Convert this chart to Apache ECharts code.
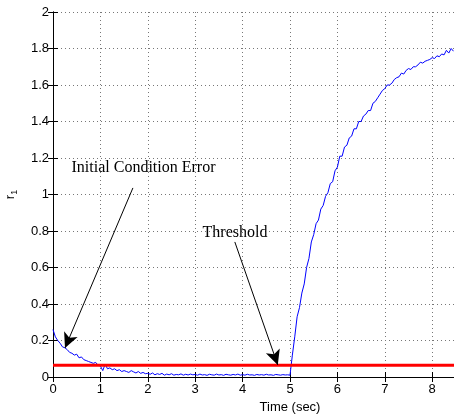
<!DOCTYPE html>
<html>
<head>
<meta charset="utf-8">
<script src="https://cdn.jsdelivr.net/npm/echarts@6/dist/echarts.min.js"></script>
<style>html,body{margin:0;padding:0;background:#fff;overflow:hidden;}#chart{width:454px;height:415px;}</style>
</head>
<body>
<div id="chart"></div>
<script>
// Time samples (sec)
var timeSec = [
 0.00,0.05,0.10,0.15,0.20,0.25,0.30,0.35,0.40,0.45,0.50,0.55,0.60,0.65,0.70,0.75,0.80,0.85,0.90,0.95,
 1.00,1.05,1.10,1.15,1.20,1.25,1.30,1.35,1.40,1.45,1.50,1.55,1.60,1.65,1.70,1.75,1.80,1.85,1.90,1.95,
 2.00,2.05,2.10,2.15,2.20,2.25,2.30,2.35,2.40,2.45,2.50,2.55,2.60,2.65,2.70,2.75,2.80,2.85,2.90,2.95,
 3.00,3.05,3.10,3.15,3.20,3.25,3.30,3.35,3.40,3.45,3.50,3.55,3.60,3.65,3.70,3.75,3.80,3.85,3.90,3.95,
 4.00,4.05,4.10,4.15,4.20,4.25,4.30,4.35,4.40,4.45,4.50,4.55,4.60,4.65,4.70,4.75,4.80,4.85,4.90,4.95,
 5.00,5.05,5.10,5.15,5.20,5.25,5.30,5.35,5.40,5.45,5.50,5.55,5.60,5.65,5.70,5.75,5.80,5.85,5.90,5.95,
 6.00,6.05,6.10,6.15,6.20,6.25,6.30,6.35,6.40,6.45,6.50,6.55,6.60,6.65,6.70,6.75,6.80,6.85,6.90,6.95,
 7.00,7.05,7.10,7.15,7.20,7.25,7.30,7.35,7.40,7.45,7.50,7.55,7.60,7.65,7.70,7.75,7.80,7.85,7.90,7.95,
 8.00,8.05,8.10,8.15,8.20,8.25,8.30,8.35,8.40,8.45
];
// Residual r1
var r1 = [
 0.26,0.22,0.20,0.185,0.165,0.16,0.15,0.135,0.13,0.12,0.125,0.105,0.11,0.095,0.09,0.085,0.08,0.075,0.08,0.065,
 0.06,0.035,0.07,0.045,0.05,0.04,0.045,0.035,0.04,0.03,0.035,0.03,0.025,0.035,0.028,0.022,0.03,0.02,0.025,0.018,
 0.02,0.015,0.022,0.012,0.018,0.014,0.02,0.01,0.016,0.012,0.018,0.01,0.014,0.012,0.017,0.01,0.015,0.011,0.016,0.012,
 0.014,0.01,0.016,0.011,0.013,0.009,0.015,0.012,0.01,0.016,0.011,0.013,0.009,0.015,0.012,0.01,0.014,0.011,0.016,0.01,
 0.013,0.01,0.015,0.011,0.012,0.009,0.014,0.011,0.013,0.01,0.015,0.011,0.012,0.009,0.014,0.012,0.01,0.013,0.011,0.012,
 0.01,0.12,0.22,0.33,0.38,0.46,0.51,0.60,0.65,0.74,0.78,0.84,0.86,0.92,0.94,0.99,1.01,1.06,1.07,1.13,
 1.15,1.21,1.21,1.26,1.27,1.31,1.32,1.36,1.36,1.40,1.40,1.43,1.44,1.46,1.46,1.50,1.51,1.53,1.55,1.57,
 1.58,1.60,1.60,1.61,1.63,1.64,1.645,1.665,1.66,1.68,1.69,1.685,1.70,1.70,1.71,1.725,1.72,1.73,1.735,1.74,
 1.75,1.745,1.76,1.755,1.77,1.765,1.79,1.775,1.80,1.785
];
var thresholdValue = 0.065;
var thresholdTimes = [0, 10];
// Annotations: [text, textTime, textValue, tailTime, tailValue, headTime, headValue]
var annotations = [
 ['Initial Condition Error', 1.91, 1.145, 1.686, 1.036, 0.253, 0.159],
 ['Threshold', 3.84, 0.789, 3.836, 0.740, 4.742, 0.066]
];

var r1Data = timeSec.map(function(t, i){ return [t, r1[i]]; });
var thrData = thresholdTimes.map(function(t){ return [t, thresholdValue]; });

var chart = echarts.init(document.getElementById('chart'));
var sans = 'Liberation Sans, Arial, sans-serif';
var axisCommon = {
  type: 'value',
  axisLine: { show: true, lineStyle: { color: '#000', width: 1 } },
  axisTick: { show: true, inside: true, length: 5, lineStyle: { color: '#000' } },
  splitLine: { show: false }
};
chart.setOption({
  animation: false,
  grid: { left: 53, top: 12, width: 474, height: 365, containLabel: false, outerBoundsMode: 'none' },
  xAxis: [
    Object.assign({}, axisCommon, {
      min: 0, max: 10, interval: 1, position: 'bottom',
      name: 'Time (sec)', nameLocation: 'middle', nameGap: 20,
      nameTextStyle: { fontFamily: sans, fontSize: 13, color: '#000' },
      axisLabel: { fontFamily: sans, fontSize: 13, color: '#000', margin: 6 },
      splitLine: { show: true, lineStyle: { color: '#777', type: [1, 3], width: 1 } }
    }),
    Object.assign({}, axisCommon, {
      min: 0, max: 10, interval: 1, position: 'top', axisLabel: { show: false }
    })
  ],
  yAxis: [
    Object.assign({}, axisCommon, {
      min: 0, max: 2, interval: 0.2, position: 'left',
      name: '{r|r}{s|1}', nameLocation: 'middle', nameGap: 34, nameRotate: 90,
      nameTextStyle: { rich: {
        r: { fontFamily: sans, fontSize: 13, color: '#000' },
        s: { fontFamily: sans, fontSize: 9, color: '#000', verticalAlign: 'bottom', padding: [8, 0, 0, 0] }
      } },
      axisLabel: { fontFamily: sans, fontSize: 13, color: '#000', margin: 4 },
      splitLine: { show: true, lineStyle: { color: '#777', type: [1, 3], width: 1 } }
    }),
    Object.assign({}, axisCommon, {
      min: 0, max: 2, interval: 0.2, position: 'right', axisLabel: { show: false }
    })
  ],
  series: [
    {
      type: 'line', data: r1Data, showSymbol: false, symbol: 'none',
      lineStyle: { color: '#0000ff', width: 1 }, z: 3
    },
    {
      type: 'line', data: thrData, showSymbol: false, symbol: 'none',
      lineStyle: { color: '#ff0000', width: 3 }, z: 4
    },
    {
      type: 'line', data: [], z: 5,
      markLine: {
        silent: true, symbol: ['none', 'arrow'], symbolSize: [11, 15],
        label: { show: false },
        lineStyle: { color: '#000', width: 1, type: 'solid' },
        data: annotations.map(function(a){
          return [{ coord: [a[3], a[4]] }, { coord: [a[5], a[6]] }];
        })
      },
      markPoint: {
        silent: true, symbol: 'circle', symbolSize: 0,
        label: { show: true, position: 'inside', formatter: '{b}',
          fontFamily: 'Liberation Serif, Times New Roman, serif', fontSize: 16, color: '#000' },
        data: annotations.map(function(a){
          return { name: a[0], coord: [a[1], a[2]] };
        })
      }
    }
  ]
});
</script>
</body>
</html>
